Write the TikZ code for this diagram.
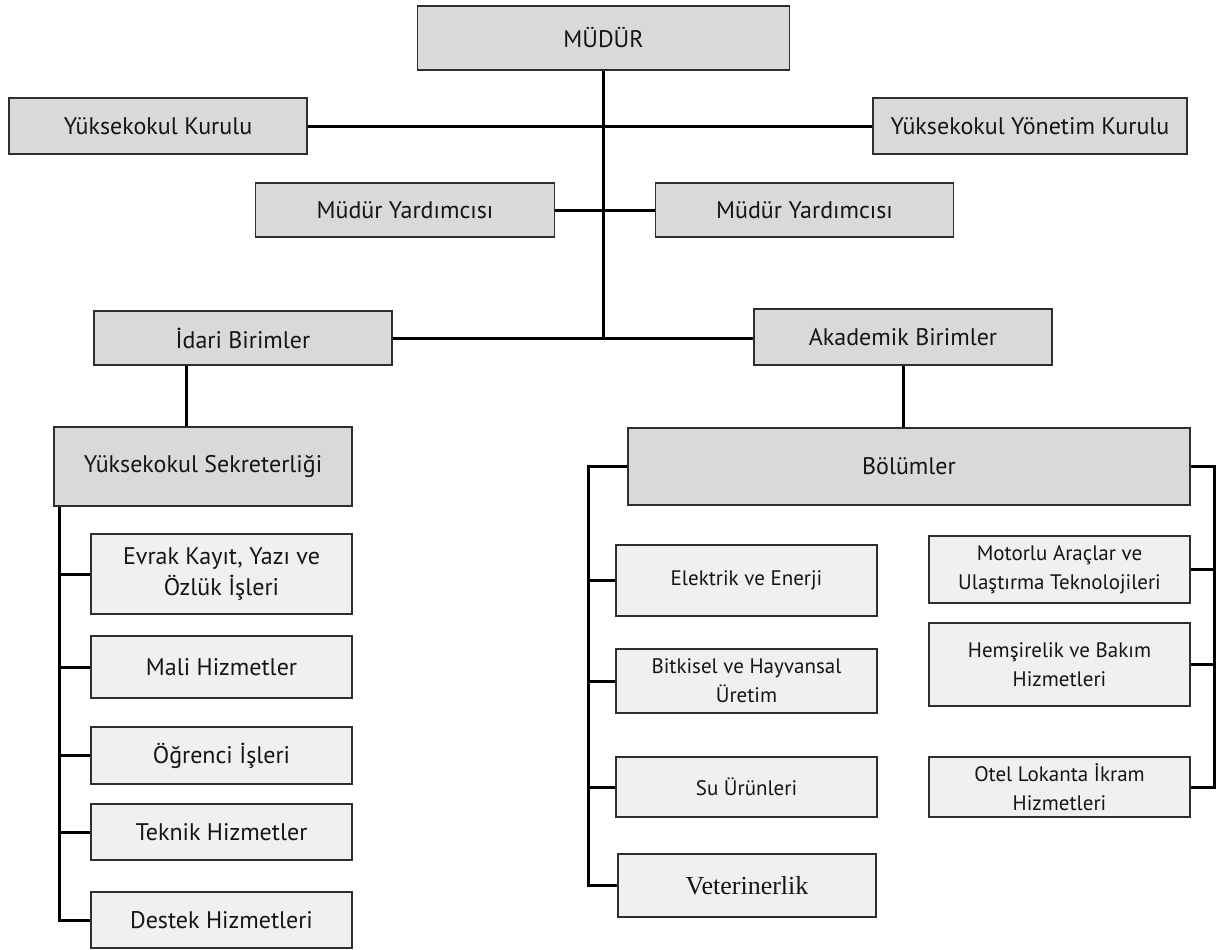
\documentclass[tikz,border=0pt]{standalone}
\usepackage{fontspec}
\setmainfont{PT Sans}
\newfontfamily\vetfont{Liberation Serif}
\definecolor{topfill}{HTML}{D9D9D9}
\definecolor{subfill}{HTML}{F0F0F0}
\definecolor{edge}{HTML}{2E2E2E}
\definecolor{txt}{HTML}{151515}
\tikzset{
  box/.style={draw=edge, line width=1.4pt, rectangle, inner sep=0pt, align=center, text=txt},
  topbox/.style={box, fill=topfill, font=\fontsize{24}{30}\selectfont},
  leftbox/.style={box, fill=subfill, minimum width=261pt, font=\fontsize{24}{31}\selectfont},
  rightbox/.style={box, fill=subfill, minimum width=261pt, font=\fontsize{21}{29}\selectfont},
  link/.style={draw=black, line width=3pt}
}
\begin{document}
\begin{tikzpicture}[x=1pt,y=-1pt]
\useasboundingbox (0,0) rectangle (1223,950);
% top level
\node[topbox, minimum width=372pt, minimum height=64pt] (mudur) at (603.5,38) {MÜDÜR};
\node[topbox, minimum width=298pt, minimum height=56pt] (kurulu) at (158,126) {Yüksekokul Kurulu};
\node[topbox, minimum width=314pt, minimum height=56pt] (yonetim) at (1030,126) {Yüksekokul Yönetim Kurulu};
\node[topbox, minimum width=299pt, minimum height=54pt] (yard1) at (405,210) {Müdür Yardımcısı};
\node[topbox, minimum width=298pt, minimum height=54pt] (yard2) at (804.5,210) {Müdür Yardımcısı};
\node[topbox, minimum width=298pt, minimum height=54pt] (idari) at (243,338) {İdari Birimler};
\node[topbox, minimum width=298pt, minimum height=56pt] (akad) at (903,337) {Akademik Birimler};
\node[topbox, minimum width=298pt, minimum height=79pt] (sekr) at (203,466.5) {Yüksekokul Sekreterliği};
\node[topbox, minimum width=562pt, minimum height=77pt] (bol) at (909,466.5) {Bölümler};
% left children
\node[leftbox, minimum height=80pt] (evrak) at (221.5,574) {Evrak Kayıt, Yazı ve\\Özlük İşleri};
\node[leftbox, minimum height=62pt] (mali) at (221.5,667) {Mali Hizmetler};
\node[leftbox, minimum height=57pt] (ogr) at (221.5,755.5) {Öğrenci İşleri};
\node[leftbox, minimum height=56pt] (teknik) at (221.5,832) {Teknik Hizmetler};
\node[leftbox, minimum height=56pt] (destek) at (221.5,920) {Destek Hizmetleri};
% middle children
\node[rightbox, minimum height=71pt] (elek) at (746.5,580.5) {Elektrik ve Enerji};
\node[rightbox, minimum height=64pt] (bitk) at (746.5,681) {Bitkisel ve Hayvansal\\Üretim};
\node[rightbox, minimum height=60pt] (su) at (746.5,787) {Su Ürünleri};
\node[rightbox, minimum height=63pt, minimum width=258pt, font=\vetfont\fontsize{26}{30}\selectfont] (vet) at (747,885.5) {Veterinerlik};
% right children
\node[rightbox, minimum height=67pt] (motor) at (1059.5,569.5) {Motorlu Araçlar ve\\Ulaştırma Teknolojileri};
\node[rightbox, minimum height=83pt] (hems) at (1059.5,664.5) {Hemşirelik ve Bakım\\Hizmetleri};
\node[rightbox, minimum height=60pt] (otel) at (1059.5,787) {Otel Lokanta İkram\\Hizmetleri};
% bus coordinates
\coordinate (lbus) at (59,0);
\coordinate (sbus) at (186,0);
\coordinate (mbus) at (588,0);
\coordinate (rbus) at (1214,0);
% connectors
\draw[link] (mudur.south) -- (mudur.south |- idari.east);
\draw[link] (kurulu.east) -- (yonetim.west);
\draw[link] (yard1.east) -- (yard2.west);
\draw[link] (idari.east) -- (akad.west |- idari.east);
\draw[link] (sbus |- idari.south) -- (sbus |- sekr.north);
\draw[link] (akad.south) -- (akad.south |- bol.north);
% left bus
\draw[link] (lbus |- sekr.south) -- (lbus |- destek.west) -- (destek.west);
\foreach \n in {evrak,mali,ogr,teknik} \draw[link] (lbus |- \n.west) -- (\n.west);
% middle bus
\draw[link] (bol.west) -- (mbus |- bol.west) -- (mbus |- vet.west) -- (vet.west);
\foreach \n in {elek,bitk,su} \draw[link] (mbus |- \n.west) -- (\n.west);
% right bus
\draw[link] (bol.east) -- (rbus |- bol.east) -- (rbus |- otel.east) -- (otel.east);
\foreach \n in {motor,hems} \draw[link] (rbus |- \n.east) -- (\n.east);
\end{tikzpicture}
\end{document}
